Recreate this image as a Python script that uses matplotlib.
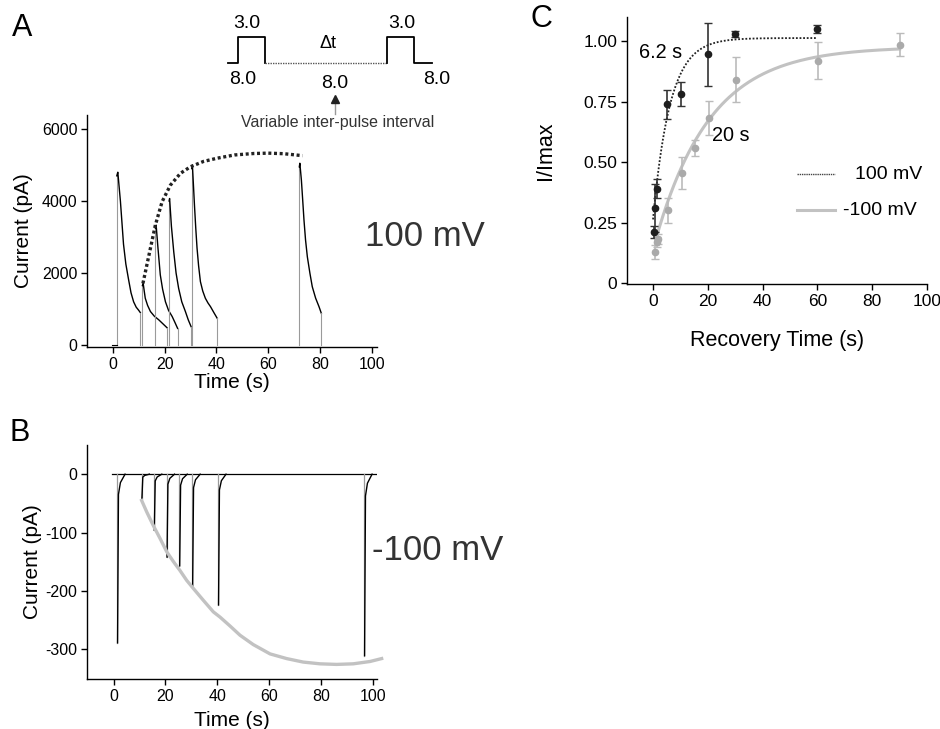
import numpy as np
import matplotlib
matplotlib.use("Agg")
import matplotlib.pyplot as plt

plt.rcParams['font.family'] = ['Liberation Sans', 'DejaVu Sans']
plt.rcParams['axes.unicode_minus'] = False

# ---- panel A: outward currents at +100 mV (time s, current pA) ----
a_sweeps = [
    ([1.5, 1.9, 2.4, 2.9, 3.5, 4.1, 5.0, 6.1, 7.0, 8.0, 9.0, 9.9, 10.6],
     [4700, 4800, 4400, 4000, 3400, 2800, 2250, 1800, 1450, 1200, 1050, 970, 900]),
    ([11.4, 11.7, 12.1, 12.5, 13.4, 14.5, 16.0, 17.7, 19.3, 20.9],
     [1650, 1710, 1500, 1300, 1100, 930, 800, 700, 590, 480]),
    ([16.4, 16.7, 17.4, 18.3, 19.2, 20.3, 21.5, 22.9, 24.0, 25.0],
     [3250, 3330, 2700, 1950, 1550, 1200, 960, 790, 620, 460]),
    ([21.7, 21.9, 22.6, 23.5, 24.4, 25.4, 26.6, 28.0, 29.1, 30.2],
     [4000, 4070, 3300, 2590, 2000, 1570, 1200, 930, 700, 510]),
    ([30.5, 30.7, 31.1, 31.5, 32.0, 32.5, 33.1, 33.8, 34.7, 35.7, 36.7, 37.7, 39.0, 40.3],
     [4900, 5000, 4450, 3890, 3250, 2690, 2200, 1760, 1500, 1300, 1170, 1065, 900, 740]),
    ([72.0, 72.2, 72.8, 73.3, 73.8, 74.4, 75.1, 76.1, 77.0, 78.3, 79.6, 80.5],
     [4950, 5050, 4580, 4030, 3470, 2920, 2450, 1990, 1620, 1300, 1065, 880]),
]
a_env_t = [11.6, 14.5, 16.4, 19.0, 22.2, 26.1, 29.9, 35.0, 40.3, 47.0, 54.4, 60.0, 66.0, 73.2]
a_env_i = [1710, 2690, 3330, 3980, 4440, 4770, 4950, 5100, 5190, 5280, 5320, 5330, 5315, 5260]

# ---- panel B: inward currents at -100 mV ----
b_onsets = [1.4, 10.8, 15.6, 20.5, 25.4, 30.4, 40.4, 96.8]
b_peaks = [-289, -42, -96, -142, -157, -192, -224, -311]
b_env_t = [10.8, 12.8, 15.3, 17.9, 20.5, 23.1, 25.6, 28.2, 30.8, 34.6, 38.5, 41.1, 44.9,
           48.8, 53.9, 60.4, 66.8, 73.2, 79.7, 86.1, 92.5, 99.0, 103.5]
b_env_i = [-45, -65, -88, -110, -133, -150, -165, -182, -196, -216, -236, -245, -260,
           -276, -292, -308, -316, -322, -325, -326, -325, -321, -316]

# ---- panel C: recovery from inactivation ----
t_pos = [0.5, 0.6, 1.3, 5.2, 10.2, 20.0, 30.0, 60.0]
r_pos = [0.21, 0.31, 0.39, 0.74, 0.78, 0.945, 1.03, 1.05]
e_pos = [0.025, 0.10, 0.04, 0.06, 0.05, 0.13, 0.012, 0.015]
t_neg = [0.6, 1.4, 1.8, 5.5, 10.5, 15.5, 20.3, 30.3, 60.2, 90.0]
r_neg = [0.128, 0.17, 0.183, 0.30, 0.455, 0.558, 0.683, 0.84, 0.92, 0.985]
e_neg = [0.03, 0.02, 0.02, 0.05, 0.067, 0.033, 0.07, 0.093, 0.078, 0.048]
tau_pos, tau_neg = 6.2, 20.0
fit_pos = (1.013, 0.75)    # plateau, amplitude
fit_neg = (0.977, 0.838)

W, H = 940, 729
fig = plt.figure(figsize=(W / 100, H / 100), dpi=100)


def px_axes(l, t, r, b):
    return fig.add_axes([l / W, 1 - b / H, (r - l) / W, (b - t) / H])


def style(ax, fs):
    for s in ('top', 'right'):
        ax.spines[s].set_visible(False)
    for s in ('left', 'bottom'):
        ax.spines[s].set_linewidth(1.0)
    ax.tick_params(direction='out', length=4, width=1, labelsize=fs, pad=3)


GRAY = '#9a9a9a'

# panel A
axA = px_axes(87, 115, 377, 347)
style(axA, 11.5)
for t, i in a_sweeps:
    axA.plot([t[0], t[0]], [0, i[0]], color=GRAY, lw=0.8)
    axA.plot(t, i, color='k', lw=1.0)
    axA.plot([t[-1], t[-1]], [i[-1], 0], color=GRAY, lw=0.8)
axA.plot([-0.5, a_sweeps[0][0][0]], [0, 0], color='k', lw=0.8)
axA.plot(a_env_t, a_env_i, color='#222222', lw=2.4, ls=(0, (0.9, 0.8)))
axA.set_xlim(-10, 102)
axA.set_ylim(-56, 6390)
axA.set_xticks(range(0, 101, 20))
axA.set_yticks([0, 2000, 4000, 6000])
axA.set_xlabel('Time (s)', fontsize=15, labelpad=1)
axA.set_ylabel('Current (pA)', fontsize=15, labelpad=6)

# panel B
axB = px_axes(87, 445, 377, 679)
style(axB, 11.5)
axB.plot([-0.5, 102], [0, 0], color='k', lw=0.9)
for t0, p in zip(b_onsets, b_peaks):
    axB.plot([t0, t0], [0, p], color=GRAY, lw=0.9)
    axB.plot([t0 + 0.1, t0 + 0.45, t0 + 1.2, t0 + 3.0],
             [p, 0.12 * p, 0.05 * p, 0], color='k', lw=1.0)
axB.plot(b_env_t, b_env_i, color='#c2c2c2', lw=2.4, clip_on=False)
axB.set_xlim(-10.3, 101.7)
axB.set_ylim(-351, 50)
axB.set_xticks(range(0, 101, 20))
axB.set_yticks([0, -100, -200, -300])
axB.set_xlabel('Time (s)', fontsize=15, labelpad=5)
axB.set_ylabel('Current (pA)', fontsize=15, labelpad=2)

# panel C
axC = px_axes(627, 17, 927, 284)
style(axC, 12.5)
tp = np.linspace(0, 60, 200)
tn = np.linspace(1, 90, 200)
axC.plot(tp, fit_pos[0] - fit_pos[1] * np.exp(-tp / tau_pos), color='#222222', lw=1.3, ls=(0, (1, 1)))
axC.plot(tn, fit_neg[0] - fit_neg[1] * np.exp(-tn / tau_neg), color='#c2c2c2', lw=2.2)
axC.errorbar(t_neg, r_neg, yerr=e_neg, fmt='o', ms=4.5, color='#aaaaaa', ecolor='#bbbbbb',
             elinewidth=1.2, capsize=3, capthick=1)
axC.errorbar(t_pos, r_pos, yerr=e_pos, fmt='o', ms=4.5, color='#1e1e1e', ecolor='#333333',
             elinewidth=1.2, capsize=3, capthick=1)
axC.set_xlim(-9.5, 100)
axC.set_ylim(-0.004, 1.10)
axC.set_xticks(range(0, 101, 20))
axC.set_yticks([0, 0.25, 0.5, 0.75, 1.0])
axC.set_yticklabels(['0', '0.25', '0.50', '0.75', '1.00'])
axC.set_xlabel('Recovery Time (s)', fontsize=15.5, labelpad=15)
axC.set_ylabel('I/Imax', fontsize=15.5, labelpad=20)
axC.text(-5.1, 0.955, '6.2 s', fontsize=14.3, va='center')
axC.text(21.5, 0.61, '20 s', fontsize=14.3, va='center')

# overlay in pixel units for legend, protocol sketch and panel labels
ov = fig.add_axes([0, 0, 1, 1])
ov.set_xlim(0, W)
ov.set_ylim(H, 0)
ov.axis('off')
ov.patch.set_alpha(0)

ov.plot([797, 835], [174, 174], color='#444444', lw=1.0, ls=(0, (1, 0.6)))
ov.plot([797, 835], [210, 210], color='#c2c2c2', lw=2.2)
ov.text(855, 174, '100 mV', fontsize=14, ha='left', va='center')
ov.text(843, 210, '-100 mV', fontsize=14, ha='left', va='center')

ov.plot([228, 238, 238, 265, 265], [63, 63, 37, 37, 63], color='k', lw=1.3)
ov.plot([265, 387], [63, 63], color='#555555', lw=1.0, ls=(0, (1, 0.8)))
ov.plot([387, 387, 414, 414, 432], [63, 37, 37, 63, 63], color='k', lw=1.3)
ov.text(247, 23, '3.0', fontsize=14, ha='center', va='center')
ov.text(402, 23, '3.0', fontsize=14, ha='center', va='center')
ov.text(328, 43, '\u0394t', fontsize=13, ha='center', va='center')
ov.text(243, 79, '8.0', fontsize=14, ha='center', va='center')
ov.text(335, 83, '8.0', fontsize=14, ha='center', va='center')
ov.text(437, 79, '8.0', fontsize=14, ha='center', va='center')
ov.plot([335, 335], [102, 114], color='#999999', lw=1.0)
ov.plot([335], [99], marker='^', ms=6, color='#222222')
ov.text(338, 122, 'Variable inter-pulse interval', fontsize=11.5, color='#333333',
        ha='center', va='center')

ov.text(365, 236, '100 mV', fontsize=25, color='#333333', ha='left', va='center')
ov.text(372, 550, '-100 mV', fontsize=25, color='#333333', ha='left', va='center')

ov.text(22, 28, 'A', fontsize=22, ha='center', va='center')
ov.text(20, 433, 'B', fontsize=22, ha='center', va='center')
ov.text(541, 19, 'C', fontsize=22, ha='center', va='center')

fig.savefig('out.png', dpi=100)
